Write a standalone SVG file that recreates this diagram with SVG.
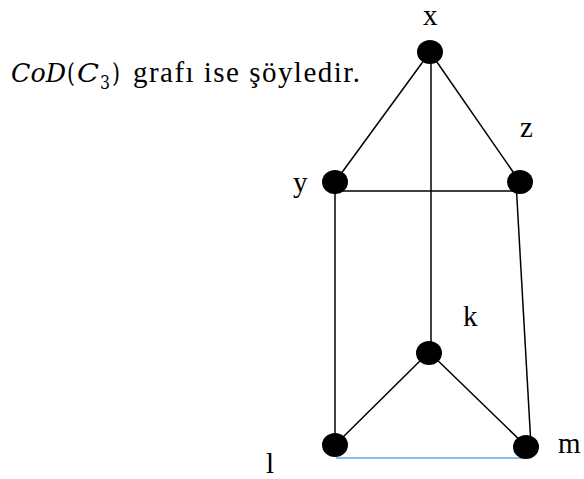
<svg xmlns="http://www.w3.org/2000/svg" width="584" height="479" viewBox="0 0 584 479">
<style>
.e{stroke:#000;stroke-width:1.5;fill:none}
.n{fill:#000}
.t{font-family:"Liberation Serif","Times New Roman",serif;fill:#000;font-size:29px}
.m{font-family:"DejaVu Serif",serif;fill:#000;font-size:26px}
</style>
<rect width="584" height="479" fill="#fff"/>
<g id="caption">
<text class="m" y="82"><tspan x="11" font-style="italic" textLength="55" lengthAdjust="spacingAndGlyphs">CoD</tspan><tspan x="67" textLength="8" lengthAdjust="spacingAndGlyphs">(</tspan><tspan x="77" font-style="italic" textLength="22" lengthAdjust="spacingAndGlyphs">C</tspan><tspan x="100" dy="7" font-size="18" textLength="10" lengthAdjust="spacingAndGlyphs">3</tspan><tspan x="112" dy="-7" textLength="8" lengthAdjust="spacingAndGlyphs">)</tspan></text>
<text class="t" x="133" y="82" font-size="28.5" textLength="227" lengthAdjust="spacing">grafı ise şöyledir.</text>
</g>
<g id="connectors">
<line class="e" x1="430" y1="52" x2="335" y2="182"/>
<line class="e" x1="430" y1="52" x2="520" y2="182"/>
<line class="e" x1="431" y1="52" x2="431" y2="352"/>
<line class="e" x1="335" y1="191" x2="520" y2="191"/>
<line class="e" x1="335" y1="182" x2="335" y2="445"/>
<line class="e" x1="516" y1="182" x2="531" y2="446"/>
<line class="e" x1="429" y1="352" x2="335" y2="445"/>
<line class="e" x1="429" y1="352" x2="527" y2="447"/>
<line x1="336" y1="458" x2="524" y2="458" stroke="#6fa6d8" stroke-width="1.5"/>
</g>
<g id="node-x"><ellipse class="n" cx="430" cy="52" rx="13" ry="12"/><text class="t" x="423" y="25" font-size="28">x</text></g>
<g id="node-y"><ellipse class="n" cx="335" cy="182" rx="13" ry="12"/><text class="t" x="293" y="192">y</text></g>
<g id="node-z"><ellipse class="n" cx="520" cy="182" rx="13" ry="12"/><text class="t" x="520" y="137">z</text></g>
<g id="node-k"><ellipse class="n" cx="429" cy="353" rx="13" ry="12"/><text class="t" x="463" y="326">k</text></g>
<g id="node-l"><ellipse class="n" cx="335" cy="445" rx="13" ry="12"/><text class="t" x="266" y="473">l</text></g>
<g id="node-m"><ellipse class="n" cx="526" cy="447" rx="13" ry="12"/><text class="t" x="558" y="453">m</text></g>
</svg>
